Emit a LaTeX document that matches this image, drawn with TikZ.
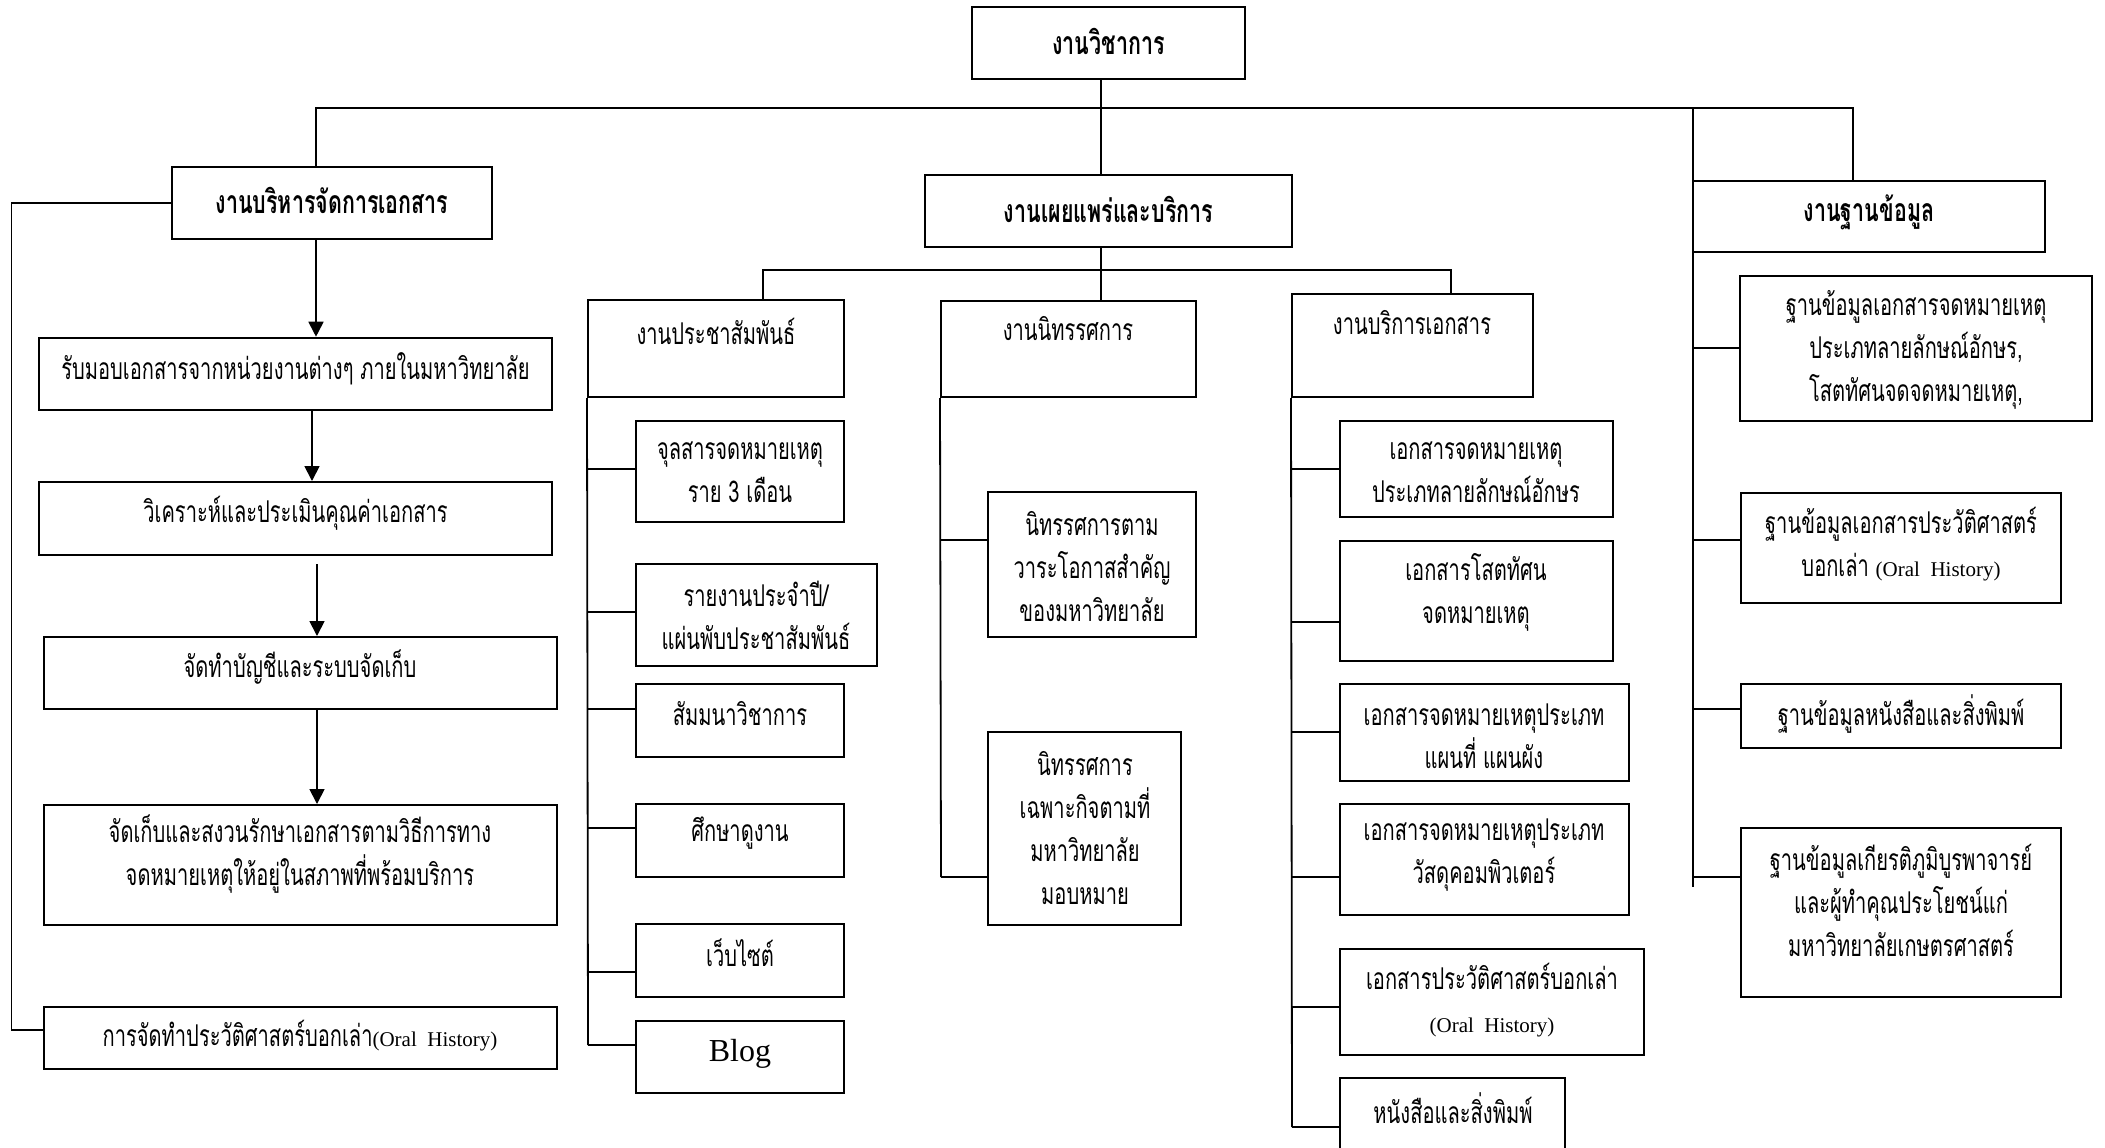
\documentclass[tikz,border=0pt]{standalone}
\usepackage{fontspec}
\usetikzlibrary{arrows.meta,fit}
\newfontfamily\thai[Script=Thai,FakeStretch=0.67]{Loma}
\newfontfamily\latin{Liberation Serif}
\newcommand\ohist{{\latin\fontsize{10.5}{21.5}\selectfont(Oral\ \ History)}}
\tikzset{
  box/.style={draw, line width=1pt, inner sep=0pt},
  txt/.style={font=\thai\fontsize{15}{21.5}\selectfont, align=center, inner sep=0pt, yshift=2pt},
  head/.style={font=\thai\bfseries\fontsize{16}{21.5}\selectfont, align=center, inner sep=0pt, yshift=2pt},
  link/.style={line width=0.9pt},
  flow/.style={link, -{Triangle[length=7.5pt,width=7.5pt]}},
}
\begin{document}
\begin{tikzpicture}[x=0.5pt,y=-0.5pt]
\useasboundingbox (0,0) rectangle (2105,1147);
\clip (0,0) rectangle (2105,1147);

% ---- level 0 and level 1 ----
\node[box,fit={(972,7)(1245,79)}] (top) {};
\node[head] (top-t) at (1108.5,45) {งานวิชาการ};
\node[box,fit={(172,167)(492,239)}] (mgmt) {};
\node[head] (mgmt-t) at (332,204) {งานบริหารจัดการเอกสาร};
\node[box,fit={(925,175)(1292,247)}] (pub) {};
\node[head] (pub-t) at (1108.5,213) {งานเผยแพร่และบริการ};
\node[box,fit={(1693,181)(2045,252)}] (db) {};
\node[head] (db-t) at (1869,216) {งานฐานข้อมูล};

% ---- document management flow ----
\node[box,line width=1.3pt,fit={(39,338)(552,410)}] (receive) {};
\node[txt] (receive-t) at (295.5,373) {รับมอบเอกสารจากหน่วยงานต่างๆ ภายในมหาวิทยาลัย};
\node[box,fit={(39,482)(552,555)}] (analyze) {};
\node[txt] (analyze-t) at (295.5,517) {วิเคราะห์และประเมินคุณค่าเอกสาร};
\node[box,fit={(44,637)(557,709)}] (catalog) {};
\node[txt] (catalog-t) at (300,671) {จัดทำบัญชีและระบบจัดเก็บ};
\node[box,fit={(44,805)(557,925)}] (store) {};
\node[txt] (store-t) at (300,858) {จัดเก็บและสงวนรักษาเอกสารตามวิธีการทาง\\จดหมายเหตุให้อยู่ในสภาพที่พร้อมบริการ};
\node[box,fit={(44,1007)(557,1069)}] (oral) {};
\node[txt] (oral-t) at (300,1040) {การจัดทำประวัติศาสตร์บอกเล่า\ohist};

% ---- publicity and services ----
\node[box,fit={(588,300)(844,397)}] (pr) {};
\node[txt] (pr-t) at (716,335) {งานประชาสัมพันธ์};
\node[box,fit={(941,301)(1196,397)}] (exh) {};
\node[txt] (exh-t) at (1068,333) {งานนิทรรศการ};
\node[box,fit={(1292,294)(1533,397)}] (svc) {};
\node[txt] (svc-t) at (1412,327) {งานบริการเอกสาร};

\node[box,fit={(636,421)(844,522)}] (pr1) {};
\node[txt] (pr1-t) at (740,476) {จุลสารจดหมายเหตุ\\ราย 3 เดือน};
\node[box,fit={(636,564)(877,666)}] (pr2) {};
\node[txt] (pr2-t) at (756,619) {รายงานประจำปี/\\แผ่นพับประชาสัมพันธ์};
\node[box,fit={(636,684)(844,757)}] (pr3) {};
\node[txt] (pr3-t) at (740,718) {สัมมนาวิชาการ};
\node[box,fit={(636,804)(844,877)}] (pr4) {};
\node[txt] (pr4-t) at (740,837) {ศึกษาดูงาน};
\node[box,fit={(636,924)(844,997)}] (pr5) {};
\node[txt] (pr5-t) at (740,957) {เว็บไซต์};
\node[box,fit={(636,1021)(844,1093)}] (pr6) {};
\node[font=\latin\fontsize{16}{20}\selectfont,inner sep=0pt] (pr6-t) at (740,1054) {Blog};

\node[box,fit={(988,492)(1196,637)}] (exh1) {};
\node[txt] (exh1-t) at (1092,571) {นิทรรศการตาม\\วาระโอกาสสำคัญ\\ของมหาวิทยาลัย};
\node[box,fit={(988,732)(1181,925)}] (exh2) {};
\node[txt] (exh2-t) at (1085,832) {นิทรรศการ\\เฉพาะกิจตามที่\\มหาวิทยาลัย\\มอบหมาย};

\node[box,fit={(1340,421)(1613,517)}] (svc1) {};
\node[txt] (svc1-t) at (1476,476) {เอกสารจดหมายเหตุ\\ประเภทลายลักษณ์อักษร};
\node[box,fit={(1340,541)(1613,661)}] (svc2) {};
\node[txt] (svc2-t) at (1476,596) {เอกสารโสตทัศน\\จดหมายเหตุ};
\node[box,fit={(1340,684)(1629,781)}] (svc3) {};
\node[txt] (svc3-t) at (1484,740) {เอกสารจดหมายเหตุประเภท\\แผนที่ แผนผัง};
\node[box,fit={(1340,804)(1629,915)}] (svc4) {};
\node[txt] (svc4-t) at (1484,859) {เอกสารจดหมายเหตุประเภท\\วัสดุคอมพิวเตอร์};
\node[box,fit={(1340,949)(1644,1055)}] (svc5) {};
\node[txt] (svc5-t) at (1492,1004) {เอกสารประวัติศาสตร์บอกเล่า\\\ohist};
\node[box,fit={(1340,1078)(1565,1170)}] (svc6) {};
\node[txt] (svc6-t) at (1453,1112) {หนังสือและสิ่งพิมพ์};

% ---- databases ----
\node[box,fit={(1740,276)(2092,421)}] (db1) {};
\node[txt] (db1-t) at (1916,354) {ฐานข้อมูลเอกสารจดหมายเหตุ\\ประเภทลายลักษณ์อักษร,\\โสตทัศนจดจดหมายเหตุ,};
\node[box,fit={(1741,493)(2061,603)}] (db2) {};
\node[txt] (db2-t) at (1901,548) {ฐานข้อมูลเอกสารประวัติศาสตร์\\บอกเล่า \ohist};
\node[box,fit={(1741,684)(2061,748)}] (db3) {};
\node[txt] (db3-t) at (1901,718) {ฐานข้อมูลหนังสือและสิ่งพิมพ์};
\node[box,fit={(1741,828)(2061,997)}] (db4) {};
\node[txt] (db4-t) at (1901,904) {ฐานข้อมูลเกียรติภูมิบูรพาจารย์\\และผู้ทำคุณประโยชน์แก่\\มหาวิทยาลัยเกษตรศาสตร์};

% ---- connectors ----
\coordinate (busL) at (316,108);
\coordinate (busR) at (1853,108);
\coordinate (busM) at (1101,108);
\draw[link] (busM |- top.south) -- (busM |- pub.north);
\draw[link] (mgmt.north -| busL) -- (busL) -- (busR) -- (busR |- db.north);

% database spine
\coordinate (dbEnd) at (1693,887);
\draw[link] (dbEnd |- busL) -- (dbEnd);
\foreach \n/\y in {db1/348, db2/540, db3/709, db4/877}
  \draw[link] (dbEnd |- 0,\y) -- (\n.west |- 0,\y);

% left loop to oral history
\coordinate (loopB) at (11.5,1030);
\draw[link] (mgmt.west) -- (mgmt.west -| loopB) -- (loopB) -- (oral.west |- loopB);

% processing flow
\coordinate (fa) at (312,0);
\coordinate (fb) at (317,564);
\draw[flow] (mgmt.south -| busL) -- (receive.north -| busL);
\draw[flow] (receive.south -| fa) -- (analyze.north -| fa);
\draw[flow] (fb) -- (catalog.north -| fb);
\draw[flow] (catalog.south -| fb) -- (store.north -| fb);

% publicity bus
\coordinate (pbL) at (763,270);
\coordinate (pbR) at (1451,270);
\draw[link] (pub.south -| busM) -- (busM |- pbL);
\draw[link] (pr.north -| pbL) -- (pbL) -- (pbR) -- (svc.north -| pbR);
\draw[link] (busM |- pbL) -- (busM |- exh.north);

% sub-spines
\coordinate (prEnd) at (588,1045);
\draw[link] (pr.south west) -- (prEnd);
\foreach \n/\y in {pr1/469, pr2/612, pr3/709, pr4/828, pr5/972, pr6/1045}
  \draw[link] (prEnd |- 0,\y) -- (\n.west |- 0,\y);

\coordinate (exEnd) at (941,877);
\draw[link] (exh.south west) -- (exEnd);
\foreach \n/\y in {exh1/540, exh2/877}
  \draw[link] (exEnd |- 0,\y) -- (\n.west |- 0,\y);

\coordinate (svEnd) at (1292,1127);
\draw[link] (svc.south west) -- (svEnd);
\foreach \n/\y in {svc1/469, svc2/622, svc3/732, svc4/877, svc5/1007, svc6/1127}
  \draw[link] (svEnd |- 0,\y) -- (\n.west |- 0,\y);
\end{tikzpicture}
\end{document}
